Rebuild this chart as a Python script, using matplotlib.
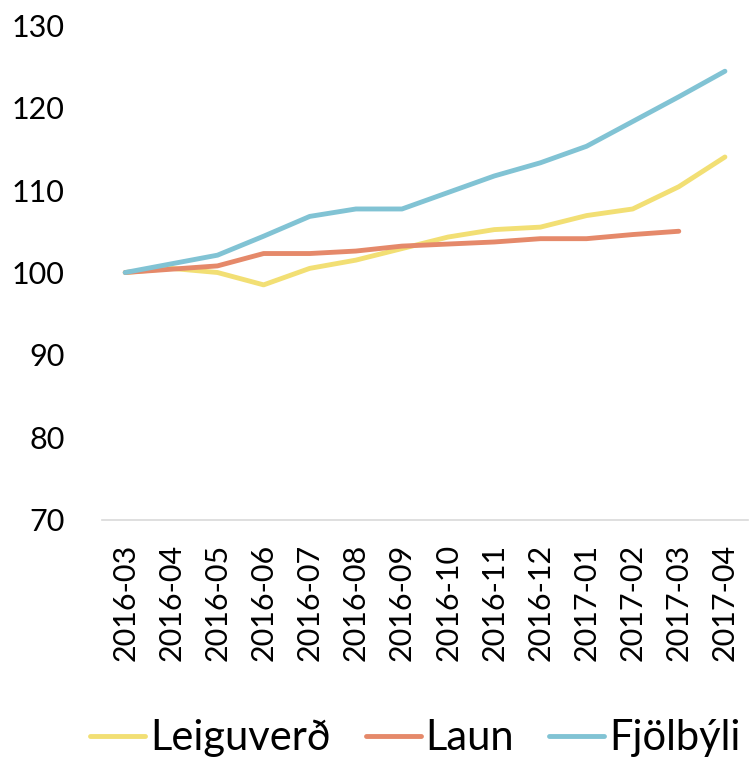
import numpy as np
import matplotlib
matplotlib.use("Agg")
import matplotlib.pyplot as plt

plt.rcParams["font.family"] = ["Lato", "DejaVu Sans"]

# Data (index, 2016-03 = 100)
months = ["2016-03", "2016-04", "2016-05", "2016-06", "2016-07", "2016-08", "2016-09",
          "2016-10", "2016-11", "2016-12", "2017-01", "2017-02", "2017-03", "2017-04"]
leiguverd = [100.0, 100.5, 100.0, 98.5, 100.5, 101.5, 102.9, 104.3, 105.2, 105.5,
             106.9, 107.7, 110.4, 114.0]
laun = [100.0, 100.4, 100.8, 102.3, 102.3, 102.6, 103.2, 103.45, 103.7, 104.1,
        104.1, 104.6, 105.0, np.nan]
fjolbyli = [100.0, 101.05, 102.1, 104.4, 106.8, 107.7, 107.7, 109.7, 111.7, 113.3,
            115.3, 118.3, 121.3, 124.4]

series = [
    ("Leiguverð", leiguverd, "#F2DF74"),
    ("Laun", laun, "#E5896A"),
    ("Fjölbýli", fjolbyli, "#81C3D4"),
]

fig = plt.figure(figsize=(7.51, 7.58), dpi=100)
ax = fig.add_axes([0.136, 0.314, 0.86, 0.653])

x = np.arange(len(months))
for label, vals, color in series:
    ax.plot(x, vals, color=color, lw=3.5, label=label, solid_capstyle="round")

ax.set_xlim(-0.5, len(months) - 0.5)
ax.set_ylim(70, 130)
ax.set_yticks(np.arange(70, 131, 10))
ax.set_xticks(x)
ax.set_xticklabels(months, rotation=90)

for side in ["top", "right", "left"]:
    ax.spines[side].set_visible(False)
ax.spines["bottom"].set_color("#D9D9D9")
ax.spines["bottom"].set_linewidth(1.2)

ax.tick_params(axis="y", length=0, labelsize=22, pad=27)
ax.tick_params(axis="x", length=0, labelsize=22, pad=17)

fig.legend(loc="center", bbox_to_anchor=(0.553, 0.026), ncol=3, frameon=False,
           fontsize=30, handlelength=1.32, handletextpad=0.12, columnspacing=0.84,
           borderpad=0, borderaxespad=0)

plt.savefig("out.png", dpi=100)
plt.close()
